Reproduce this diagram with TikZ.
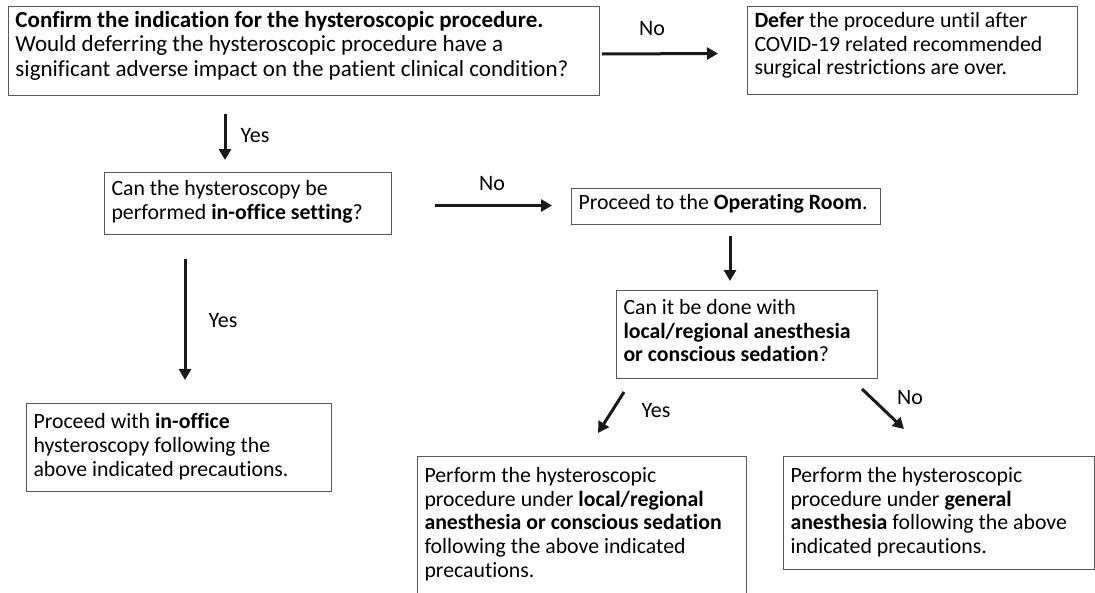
\documentclass[tikz,border=0pt]{standalone}
\usepackage{fontspec}
\setmainfont{Carlito}[Ligatures=NoCommon]
\usetikzlibrary{arrows.meta}
\newcommand\bxt[4]{\begin{minipage}[c][#2][t]{#1}\vspace*{#3}\raggedright #4\end{minipage}}
\tikzset{
  fbox/.style={draw=black!65, line width=1pt, anchor=north west, inner xsep=7pt, inner ysep=5pt, font=\fontsize{21.8}{23.6}\selectfont},
  bigtext/.style={font=\fontsize{23}{24.2}\selectfont},
  arr/.style={line width=3pt, draw=black!90, -{Triangle[length=11pt,width=12pt]}},
  lbl/.style={font=\fontsize{22}{24}\selectfont, inner sep=0pt}
}
\begin{document}
\begin{tikzpicture}[x=1pt,y=-1pt]
\useasboundingbox (0,0) rectangle (1095,592);
\node[fbox,bigtext] (b1) at (8,6) {\bxt{577pt}{79pt}{0pt}{\textbf{Confirm the indication for the hysteroscopic procedure.}\\Would deferring the hysteroscopic procedure have a\\significant adverse impact on the patient clinical condition?}};
\node[fbox] (b2) at (747,6) {\bxt{316pt}{78pt}{1pt}{\textbf{Defer} the procedure until after\\COVID-19 related recommended\\surgical restrictions are over.}};
\node[fbox] (b3) at (104,172) {\bxt{273pt}{52pt}{3pt}{Can the hysteroscopy be\\performed \textbf{in-office setting}?}};
\node[fbox] (b4) at (571,188) {\bxt{295pt}{26pt}{1pt}{Proceed to the \textbf{Operating Room}.}};
\node[fbox] (b5) at (616,290) {\bxt{247pt}{78pt}{4pt}{Can it be done with\\\textbf{local/regional anesthesia}\\\textbf{or conscious sedation}?}};
\node[fbox] (b6) at (417,456) {\bxt{315pt}{152pt}{6pt}{Perform the hysteroscopic\\procedure under \textbf{local/regional}\\\textbf{anesthesia or conscious sedation}\\following the above indicated\\precautions.}};
\node[fbox] (b7) at (783,456) {\bxt{297pt}{103pt}{6pt}{Perform the hysteroscopic\\procedure under \textbf{general}\\\textbf{anesthesia} following the above\\indicated precautions.}};
\node[fbox] (b8) at (26,403) {\bxt{291pt}{78pt}{5pt}{Proceed with \textbf{in-office}\\hysteroscopy following the\\above indicated precautions.}};
% connectors
\draw[arr] ([shift={(2,3)}]b1.east) -- ([shift={(-29,3)}]b2.west);
\draw[arr] ([shift={(217,18)}]b1.south west) -- ([shift={(121,-12)}]b3.north west);
\draw[arr] ([shift={(43,2)}]b3.east) -- ([shift={(-19,-1)}]b4.west);
\draw[arr] ([shift={(159,11)}]b4.south west) -- ([shift={(114,-9)}]b5.north west);
\draw[arr] ([shift={(8,13)}]b5.south west) -- ([shift={(181,-23)}]b6.north west);
\draw[arr] ([shift={(-16,10)}]b5.south east) -- ([shift={(121,-27)}]b7.north west);
\draw[arr] ([shift={(81,24)}]b3.south west) -- ([shift={(159,-23)}]b8.north west);
% labels
\node[lbl] (l1) at (652,29) {No};
\node[lbl] (l2) at (255,136) {Yes};
\node[lbl] (l3) at (492,184) {No};
\node[lbl] (l4) at (223,321) {Yes};
\node[lbl] (l5) at (656,411) {Yes};
\node[lbl] (l6) at (910,398) {No};
\end{tikzpicture}
\end{document}
